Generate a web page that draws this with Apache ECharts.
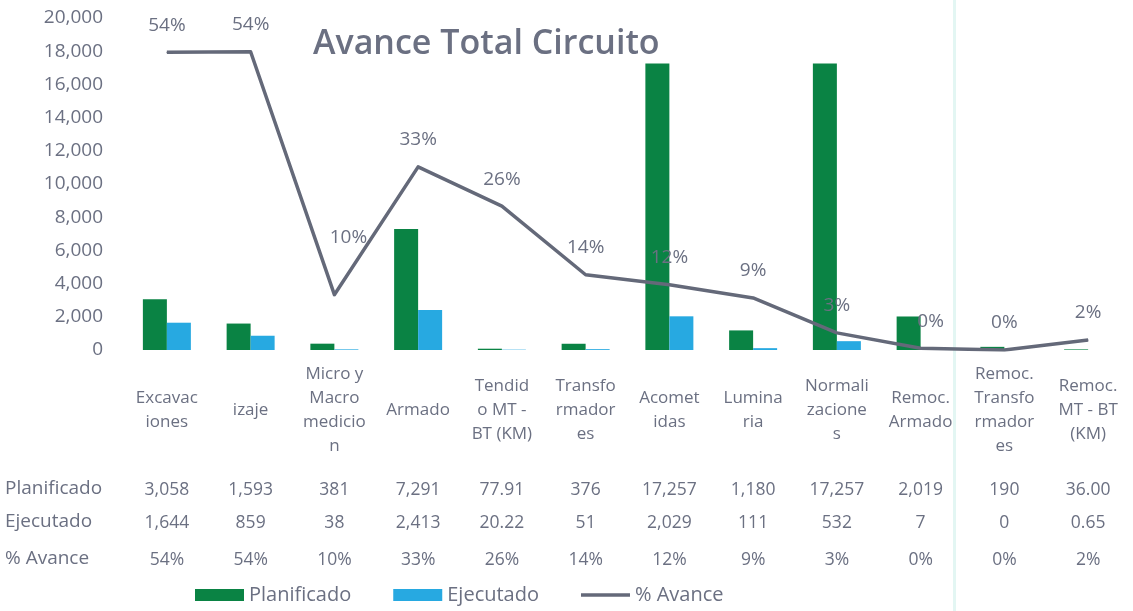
<!DOCTYPE html>
<html><head><meta charset="utf-8">
<script src="https://cdn.jsdelivr.net/npm/echarts@6/dist/echarts.min.js"></script>
<style>html,body{margin:0;padding:0;background:#fff}#c{width:1133px;height:611px}</style>
</head><body><div id="c"></div>
<script>
const categories = ["Excavaciones","izaje","Micro y Macromedicion","Armado","Tendido MT - BT (KM)","Transformadores","Acometidas","Luminaria","Normalizaciones","Remoc. Armado","Remoc. Transformadores","Remoc. MT - BT (KM)"];
const categoryLabels = ["Excavac\niones","izaje","Micro y\nMacro\nmedicio\nn","Armado","Tendid\no MT -\nBT (KM)","Transfo\nrmador\nes","Acomet\nidas","Lumina\nria","Normali\nzacione\ns","Remoc.\nArmado","Remoc.\nTransfo\nrmador\nes","Remoc.\nMT - BT\n(KM)"];
const planificado = [3058, 1593, 381, 7291, 77.91, 376, 17257, 1180, 17257, 2019, 190, 36.00];
const ejecutado = [1644, 859, 38, 2413, 20.22, 51, 2029, 111, 532, 7, 0, 0.65];
const avance = [53.8, 53.9, 10.0, 33.1, 26.0, 13.6, 11.8, 9.4, 3.1, 0.3, 0, 1.8];
const yTicks = [0, 2000, 4000, 6000, 8000, 10000, 12000, 14000, 16000, 18000, 20000];

const FONT = '"Open Sans",sans-serif';
const TXT = '#6b7082';
const fmt = (v, i) => categories[i].includes('KM') ? v.toFixed(2) : Math.round(v).toLocaleString('en-US');

const chart = echarts.init(document.getElementById('c'));
function tableAxis(offset, arr, isPct) {
  return {
    type: 'category', data: categories, position: 'bottom', offset: offset, gridIndex: 0,
    axisLine: {show: false}, axisTick: {show: false},
    axisLabel: {interval: 0, margin: 0, verticalAlign: 'middle', fontSize: 17.5, color: TXT, fontFamily: FONT,
      formatter: (val, idx) => isPct ? Math.round(arr[idx]) + '%' : fmt(arr[idx], idx)}
  };
}
chart.setOption({
  animation: false,
  textStyle: {fontFamily: FONT},
  title: {text: 'Avance Total Circuito', left: 308, top: 22,
    textStyle: {fontSize: 34, fontWeight: 600, color: '#6b7082', fontFamily: FONT}},
  grid: {left: 125, right: 3, top: 18, bottom: 261, containLabel: false},
  legend: {bottom: 1, left: 190, itemWidth: 49, itemHeight: 12, itemGap: 42,
    textStyle: {fontSize: 20, color: TXT, fontFamily: FONT},
    data: [{name: 'Planificado', icon: 'rect'}, {name: 'Ejecutado', icon: 'rect'},
           {name: '% Avance', icon: 'path://M0,0H48V3.5H0Z'}]},
  xAxis: [
    {type: 'category', data: categories, axisLine: {show: false}, axisTick: {show: false},
     axisLabel: {interval: 0, margin: 60, verticalAlign: 'middle', lineHeight: 24, fontSize: 17, color: TXT, fontFamily: FONT,
       formatter: (val, idx) => categoryLabels[idx]}},
    tableAxis(140, planificado, false),
    tableAxis(173, ejecutado, false),
    tableAxis(210, avance, true)
  ],
  yAxis: [
    {type: 'value', min: 0, max: 20000, interval: 2000, splitLine: {show: false},
     axisLabel: {margin: 22, fontSize: 19, color: TXT, fontFamily: FONT,
       formatter: v => yTicks.includes(v) ? v.toLocaleString('en-US') : ''}},
    {type: 'value', min: 0, max: 60, show: false, splitLine: {show: false}}
  ],
  series: [
    {name: 'Planificado', type: 'bar', data: planificado, barWidth: 24, barGap: '0%', itemStyle: {color: '#0a8344'}},
    {name: 'Ejecutado', type: 'bar', data: ejecutado, barWidth: 24, itemStyle: {color: '#27a9e1'}},
    {name: '% Avance', type: 'line', yAxisIndex: 1, smooth: false, symbol: 'circle', symbolSize: 1, showSymbol: true,
     lineStyle: {color: '#646979', width: 3.5, join: 'round'}, itemStyle: {color: '#646979'},
     data: avance.map((v, i) => i === 2 ? {value: v, label: {offset: [14, -30]}} : (i === 9 ? {value: v, label: {offset: [10, 0]}} : v)),
     label: {show: true, position: 'top', distance: 17, fontSize: 19, color: TXT, fontFamily: FONT,
       formatter: p => Math.round(avance[p.dataIndex]) + '%'}}
  ],
  graphic: [
    {type: 'rect', left: 953, top: 0, shape: {width: 3, height: 611}, style: {fill: '#e3f6f3'}, z: -1, silent: true},
    {type: 'text', left: 5, top: 479, style: {text: 'Planificado', fontSize: 19, fill: TXT, fontFamily: FONT}},
    {type: 'text', left: 5, top: 512, style: {text: 'Ejecutado', fontSize: 19, fill: TXT, fontFamily: FONT}},
    {type: 'text', left: 5, top: 549, style: {text: '% Avance', fontSize: 19, fill: TXT, fontFamily: FONT}}
  ]
});
</script></body></html>
